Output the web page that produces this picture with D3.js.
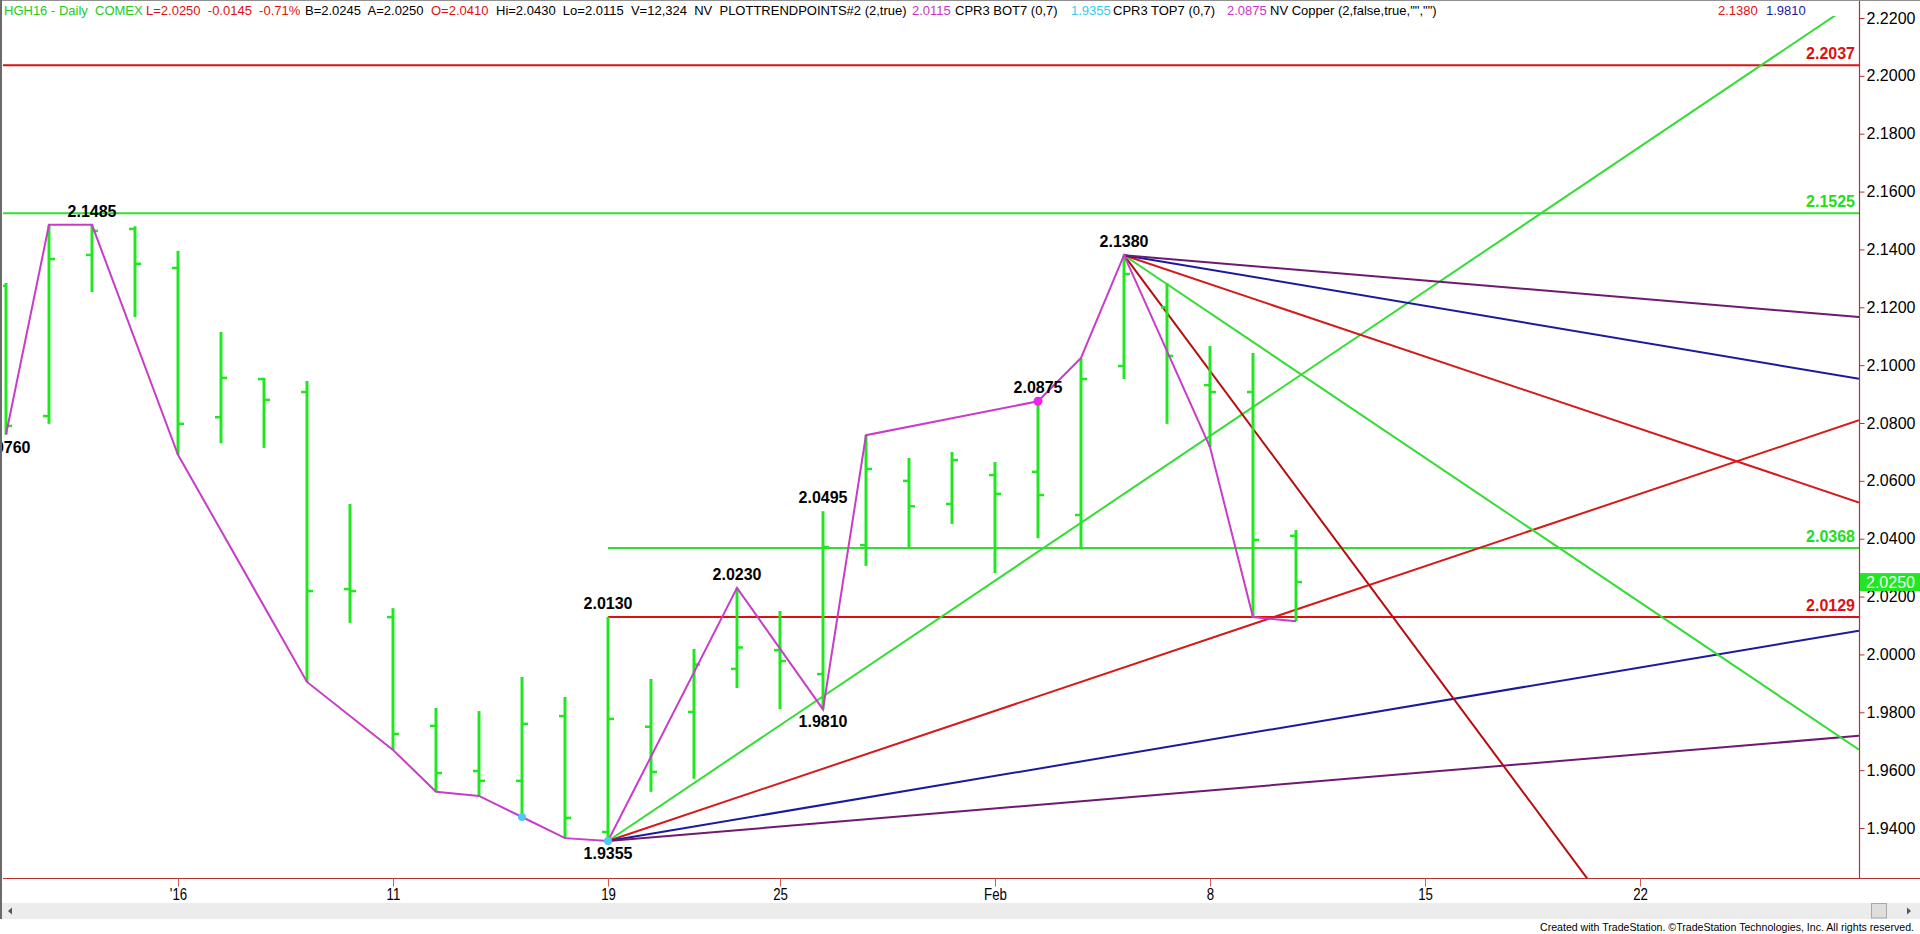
<!DOCTYPE html>
<html><head><meta charset="utf-8">
<script src="https://cdn.jsdelivr.net/npm/d3@7"></script>
<style>
html,body{margin:0;padding:0;background:#fff;overflow:hidden;}
svg{display:block;font-family:Arial,"Liberation Sans",sans-serif;}
</style></head><body>
<svg id="c" width="1920" height="934"></svg>
<script>
// ---------- DATA ----------
const dates  = ["Dec28","Dec29","Dec30","Dec31","Jan4","Jan5","Jan6","Jan7","Jan8","Jan11","Jan12","Jan13","Jan14","Jan15","Jan19","Jan20","Jan21","Jan22","Jan25","Jan26","Jan27","Jan28","Jan29","Feb1","Feb2","Feb3","Feb4","Feb5","Feb8","Feb9","Feb10"];
const opens  = [2.1274,2.0824,2.1381,2.1471,2.1336,2.0820,2.0952,2.0907,2.0226,2.0129,1.9753,1.9597,1.9563,1.9787,1.9386,1.9750,1.9801,1.9950,2.0015,1.9932,2.0378,2.0600,2.0520,2.0620,2.0631,2.0482,2.0997,2.1200,2.0931,2.0907,2.0410];
const highs  = [2.1284,2.1485,2.1485,2.1480,2.1395,2.1115,2.0956,2.0945,2.0520,2.0160,1.9815,1.9804,1.9922,1.9853,2.0130,1.9915,2.0019,2.0230,2.0150,2.0495,2.0758,2.0679,2.0700,2.0665,2.0875,2.1025,2.1380,2.1284,2.1066,2.1042,2.0430];
const lows   = [2.0760,2.0797,2.1253,2.1166,2.0690,2.0730,2.0714,1.9905,2.0109,1.9670,1.9525,1.9511,1.9438,1.9365,1.9355,1.9525,1.9570,1.9884,1.9811,1.9810,2.0306,2.0371,2.0451,2.0281,2.0402,2.0368,2.0952,2.0797,2.0717,2.0129,2.0115];
const closes = [2.0790,2.1367,2.1464,2.1350,2.0797,2.0956,2.0880,2.0219,2.0219,1.9725,1.9590,1.9563,1.9760,1.9435,1.9777,1.9594,1.9965,2.0024,1.9977,2.0371,2.0641,2.0512,2.0672,2.0555,2.0551,2.0952,2.1315,2.1032,2.0907,2.0396,2.0250];

const swingIdx  = [0,1,2,4,7,9,10,11,12,13,14,17,19,20,24,25,26,28,29,30];
const swingVals = [2.0760,2.1485,2.1485,2.0690,1.9905,1.9670,1.9525,1.9511,1.9438,1.9365,1.9355,2.0230,1.9810,2.0758,2.0875,2.1025,2.1380,2.0717,2.0129,2.0115];

const pivotIdx   = [2,0,14,14,17,19,19,24,26];
const pivotVals  = [2.1485,2.0760,2.0130,1.9355,2.0230,2.0495,1.9810,2.0875,2.1380];
const pivotAbove = [true,false,true,false,true,true,false,true,true];

const cyanDotIdx = [12,14];
const magentaDotIdx = [24];

const dateTickIdx    = [4,9,14,18,23,28,33,38];
const dateTickLabels = ["'16","11","19","25","Feb","8","15","22"];
const yTicks = [2.22,2.20,2.18,2.16,2.14,2.12,2.10,2.08,2.06,2.04,2.02,2.00,1.98,1.96,1.94];

const hLevels      = [2.2037,2.1525,2.0368,2.0129];
const hLevelStart  = [null,null,14,14];
const hLevelColors = ["#dd1111","#33dd33","#33dd33","#dd1111"];

const fanUpStartIdx = 14, fanUpStartVal = 1.9355;
const fanUpSlopes = [0.01,0.005,0.0025,0.00125];
const fanUpColors = ["#33dd33","#d41a1a","#1a1a9e","#6e1a72"];
const fanDnStartIdx = 26, fanDnStartVal = 2.1380;
const fanDnSlopes = [-0.02,-0.01,-0.005,-0.0025,-0.00125];
const fanDnColors = ["#b80c0c","#33dd33","#d41a1a","#1a1a9e","#6e1a72"];

const lastPrice = 2.0250;

const headerSegs = [
  {x:4,   t:"HGH16 - Daily  COMEX", c:"#22cc22"},
  {x:146, t:"L=2.0250  -0.0145  -0.71%", c:"#dd1111"},
  {x:305, t:"B=2.0245  A=2.0250", c:"#000"},
  {x:431, t:"O=2.0410", c:"#dd1111"},
  {x:496, t:"Hi=2.0430  Lo=2.0115  V=12,324  NV  PLOTTRENDPOINTS#2 (2,true)", c:"#000"},
  {x:912, t:"2.0115", c:"#cc33cc"},
  {x:955, t:"CPR3 BOT7 (0,7)", c:"#000"},
  {x:1071,t:"1.9355", c:"#33ccee"},
  {x:1113,t:"CPR3 TOP7 (0,7)", c:"#000"},
  {x:1227,t:"2.0875", c:"#cc33cc"},
  {x:1270,t:"NV Copper (2,false,true,\"\",\"\")", c:"#000"},
  {x:1718,t:"2.1380", c:"#dd1111"},
  {x:1766,t:"1.9810", c:"#1a1a9e"}
];

// ---------- LAYOUT ----------
const svg = d3.select("#c");
const plot = {left:3, right:1859, top:16, bottom:878};
const x = d3.scaleLinear().domain([0,30]).range([6,1296]);
const y = d3.scaleLinear().domain([1.94,2.22]).range([828,18]);
const BAR = "#22e622";

const defs = svg.append("defs");
defs.append("clipPath").attr("id","plotClip")
  .append("rect").attr("x",plot.left).attr("y",plot.top)
  .attr("width",plot.right-plot.left).attr("height",plot.bottom-plot.top);
defs.append("clipPath").attr("id","lblClip")
  .append("rect").attr("x",0).attr("y",plot.top)
  .attr("width",plot.right).attr("height",plot.bottom-plot.top);

const g = svg.append("g").attr("clip-path","url(#plotClip)");

// horizontal levels
g.selectAll("line.hl").data(hLevels).join("line").attr("class","hl")
  .attr("x1",(d,i)=>hLevelStart[i]==null?plot.left:x(hLevelStart[i]))
  .attr("x2",plot.right)
  .attr("y1",d=>y(d)).attr("y2",d=>y(d))
  .attr("stroke",(d,i)=>hLevelColors[i]).attr("stroke-width",2);

// fans
const xEnd = x.invert(plot.right);
g.selectAll("line.fu").data(fanUpSlopes).join("line").attr("class","fu")
  .attr("x1",x(fanUpStartIdx)).attr("y1",y(fanUpStartVal))
  .attr("x2",x(xEnd)).attr("y2",d=>y(fanUpStartVal + d*(xEnd-fanUpStartIdx)))
  .attr("stroke",(d,i)=>fanUpColors[i]).attr("stroke-width",2);
g.selectAll("line.fd").data(fanDnSlopes).join("line").attr("class","fd")
  .attr("x1",x(fanDnStartIdx)).attr("y1",y(fanDnStartVal))
  .attr("x2",x(xEnd)).attr("y2",d=>y(fanDnStartVal + d*(xEnd-fanDnStartIdx)))
  .attr("stroke",(d,i)=>fanDnColors[i]).attr("stroke-width",2);

// OHLC bars
const idx = d3.range(dates.length);
const bars = g.append("g");
bars.selectAll("line.hlb").data(idx).join("line").attr("class","hlb")
  .attr("x1",i=>x(i)).attr("x2",i=>x(i))
  .attr("y1",i=>y(highs[i])).attr("y2",i=>y(lows[i]))
  .attr("stroke",BAR).attr("stroke-width",3);
bars.selectAll("line.op").data(idx).join("line").attr("class","op")
  .attr("x1",i=>x(i)-6).attr("x2",i=>x(i))
  .attr("y1",i=>y(opens[i])).attr("y2",i=>y(opens[i]))
  .attr("stroke",BAR).attr("stroke-width",2.5);
bars.selectAll("line.cl").data(idx).join("line").attr("class","cl")
  .attr("x1",i=>x(i)).attr("x2",i=>x(i)+6)
  .attr("y1",i=>y(closes[i])).attr("y2",i=>y(closes[i]))
  .attr("stroke",BAR).attr("stroke-width",2.5);

// swing line
g.append("path").datum(swingIdx.map((d,i)=>[d,swingVals[i]]))
  .attr("d",d3.line().x(d=>x(d[0])).y(d=>y(d[1])))
  .attr("fill","none").attr("stroke","#c83cc8").attr("stroke-width",2);

// dots
g.selectAll("circle.cy").data(cyanDotIdx).join("circle").attr("class","cy")
  .attr("cx",i=>x(i)).attr("cy",i=>y(lows[i])).attr("r",4).attr("fill","#4ec9f5");
g.selectAll("circle.mg").data(magentaDotIdx).join("circle").attr("class","mg")
  .attr("cx",i=>x(i)).attr("cy",i=>y(highs[i])).attr("r",4.5).attr("fill","#f020f0");

// pivot labels
svg.append("g").attr("clip-path","url(#lblClip)")
  .selectAll("text.pv").data(pivotVals).join("text").attr("class","pv")
  .attr("x",(d,i)=>x(pivotIdx[i]))
  .attr("y",(d,i)=>pivotAbove[i] ? y(d)-8 : y(d)+18)
  .attr("text-anchor","middle").attr("font-size",16).attr("font-weight","bold")
  .attr("fill","#000").text(d=>d3.format(".4f")(d));

// right level labels
svg.selectAll("text.lv").data(hLevels).join("text").attr("class","lv")
  .attr("x",1855).attr("y",d=>y(d)-6).attr("text-anchor","end")
  .attr("font-size",16).attr("font-weight","bold")
  .attr("fill",(d,i)=>hLevelColors[i]==="#33dd33"?"#22dd22":"#dd1111")
  .text(d=>d3.format(".4f")(d));

// axis lines
const AX = "#b83030";
svg.append("line").attr("x1",plot.right+0.5).attr("x2",plot.right+0.5).attr("y1",0).attr("y2",plot.bottom)
  .attr("stroke",AX).attr("stroke-width",1.2);
svg.append("line").attr("x1",plot.left).attr("x2",1920).attr("y1",plot.bottom+0.5).attr("y2",plot.bottom+0.5)
  .attr("stroke",AX).attr("stroke-width",1.2);

// y axis
const yAx = svg.append("g").attr("transform",`translate(${plot.right+0.5},0)`)
  .call(d3.axisRight(y).tickValues(yTicks).tickFormat(d3.format(".4f")).tickSize(5).tickPadding(2));
yAx.select(".domain").remove();
yAx.selectAll(".tick line").attr("stroke",AX);
yAx.selectAll(".tick text").attr("font-size",16).attr("fill","#000").attr("font-family","Arial, 'Liberation Sans', sans-serif");

// x axis
const xAx = svg.append("g").attr("transform",`translate(0,${plot.bottom+0.5})`)
  .call(d3.axisBottom(x).tickValues(dateTickIdx).tickFormat((d,i)=>dateTickLabels[i]).tickSize(8).tickPadding(1));
xAx.select(".domain").remove();
xAx.selectAll(".tick line").attr("stroke","#d06060");
xAx.selectAll(".tick text").attr("font-size",17).attr("fill","#000")
  .attr("font-family","Arial, 'Liberation Sans', sans-serif").attr("transform","scale(0.78,1)");

// price tag
const tagY = y(lastPrice);
svg.append("rect").attr("x",plot.right+1).attr("y",tagY-9).attr("width",60).attr("height",18).attr("fill","#22e622");
svg.append("text").attr("x",1866).attr("y",tagY).attr("dy","0.36em").attr("font-size",16)
  .attr("fill","#f4fff4").text(d3.format(".4f")(lastPrice));

// header
const hdr = svg.append("g");
hdr.selectAll("text").data(headerSegs).join("text")
  .attr("x",d=>d.x).attr("y",15).attr("font-size",13).attr("fill",d=>d.c)
  .style("white-space","pre").text(d=>d.t);

// borders
svg.append("line").attr("x1",0).attr("x2",1920).attr("y1",0.5).attr("y2",0.5).attr("stroke","#909090");
svg.append("line").attr("x1",1).attr("x2",1).attr("y1",0).attr("y2",919).attr("stroke","#6a6a6a").attr("stroke-width",2);

// scrollbar
svg.append("rect").attr("x",2).attr("y",903).attr("width",1918).attr("height",16).attr("fill","#ececec");
svg.append("rect").attr("x",1871.5).attr("y",903.5).attr("width",15).attr("height",14.5).attr("fill","#dedede").attr("stroke","#a8a8a8");
svg.append("path").attr("d","M8,911 L12,907.5 L12,914.5 Z").attr("fill","#555");
svg.append("path").attr("d","M1911,911 L1907,907.5 L1907,914.5 Z").attr("fill","#555");

// credit
svg.append("text").attr("x",1540).attr("y",931).attr("font-size",10.5).attr("fill","#000")
  .attr("textLength",374).attr("lengthAdjust","spacingAndGlyphs")
  .text("Created with TradeStation. \u00A9TradeStation Technologies, Inc. All rights reserved.");
</script>
</body></html>
